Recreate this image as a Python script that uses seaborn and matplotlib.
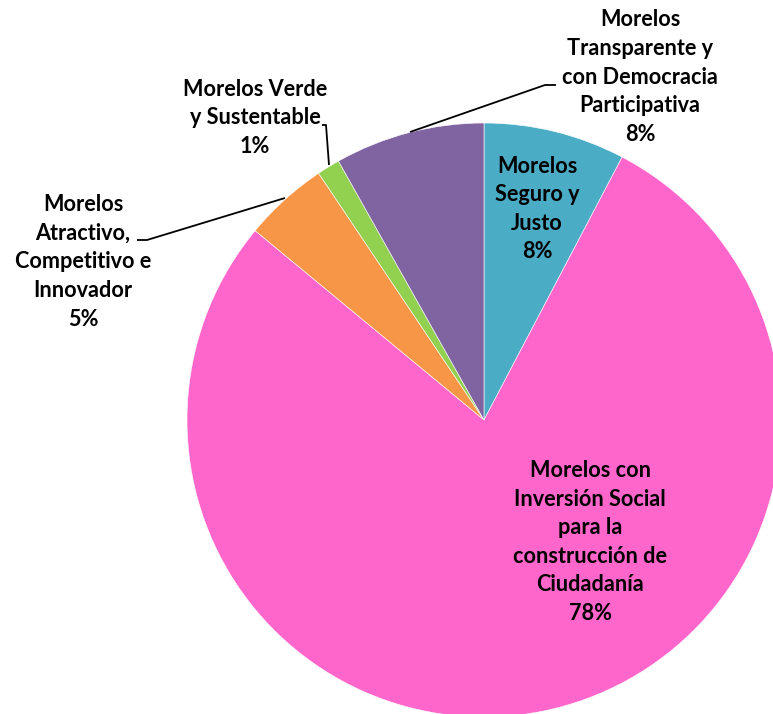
import matplotlib
matplotlib.use("Agg")
import matplotlib.pyplot as plt
import seaborn as sns

sns.set_theme(style="white")
plt.rcParams['font.family'] = ['Lato', 'DejaVu Sans']

categories = [
    "Morelos\nSeguro y\nJusto",
    "Morelos con\nInversión Social\npara la\nconstrucción de\nCiudadanía",
    "Morelos\nAtractivo,\nCompetitivo e\nInnovador",
    "Morelos Verde\ny Sustentable",
    "Morelos\nTransparente y\ncon Democracia\nParticipativa",
]
values = [7.7, 78.3, 4.6, 1.25, 8.15]
pct_labels = ["8%", "78%", "5%", "1%", "8%"]
colors = sns.color_palette(["#4BACC6", "#FF66CC", "#F79646", "#92D050", "#8064A2"])

W, H = 773, 714
cx, cy, R = 484, 420, 297

fig = plt.figure(figsize=(W / 100, H / 100), dpi=100)
ax = fig.add_axes([0, 0, 1, 1])
ax.pie(values, colors=colors, startangle=90, counterclock=False, radius=1,
       center=(0, 0), wedgeprops=dict(linewidth=0.4, edgecolor="white"), frame=False)
ax.set_xlim(-cx / R, (W - cx) / R)
ax.set_ylim(-(H - cy) / R, cy / R)
ax.set_aspect("auto")
ax.axis("off")


def px(x, y):
    return ((x - cx) / R, (cy - y) / R)


label_pos = [(537, 209), (590, 542), (83, 262), (255, 118), (640, 77)]
fs = 15.6
for cat, pct, (x, y) in zip(categories, pct_labels, label_pos):
    ax.text(*px(x, y), cat + "\n" + pct, ha="center", va="center", fontsize=fs,
            fontweight="bold", color="black", linespacing=1.45)

leaders = [
    [(410, 132), (545, 85), (556, 85)],
    [(329, 165), (326, 125), (322, 125)],
    [(285, 198), (147, 240), (137, 240)],
]
for pts in leaders:
    xs, ys = zip(*[px(a, b) for a, b in pts])
    ax.plot(xs, ys, color="black", linewidth=1.3, solid_capstyle="butt")

fig.savefig("out.png", dpi=100)
